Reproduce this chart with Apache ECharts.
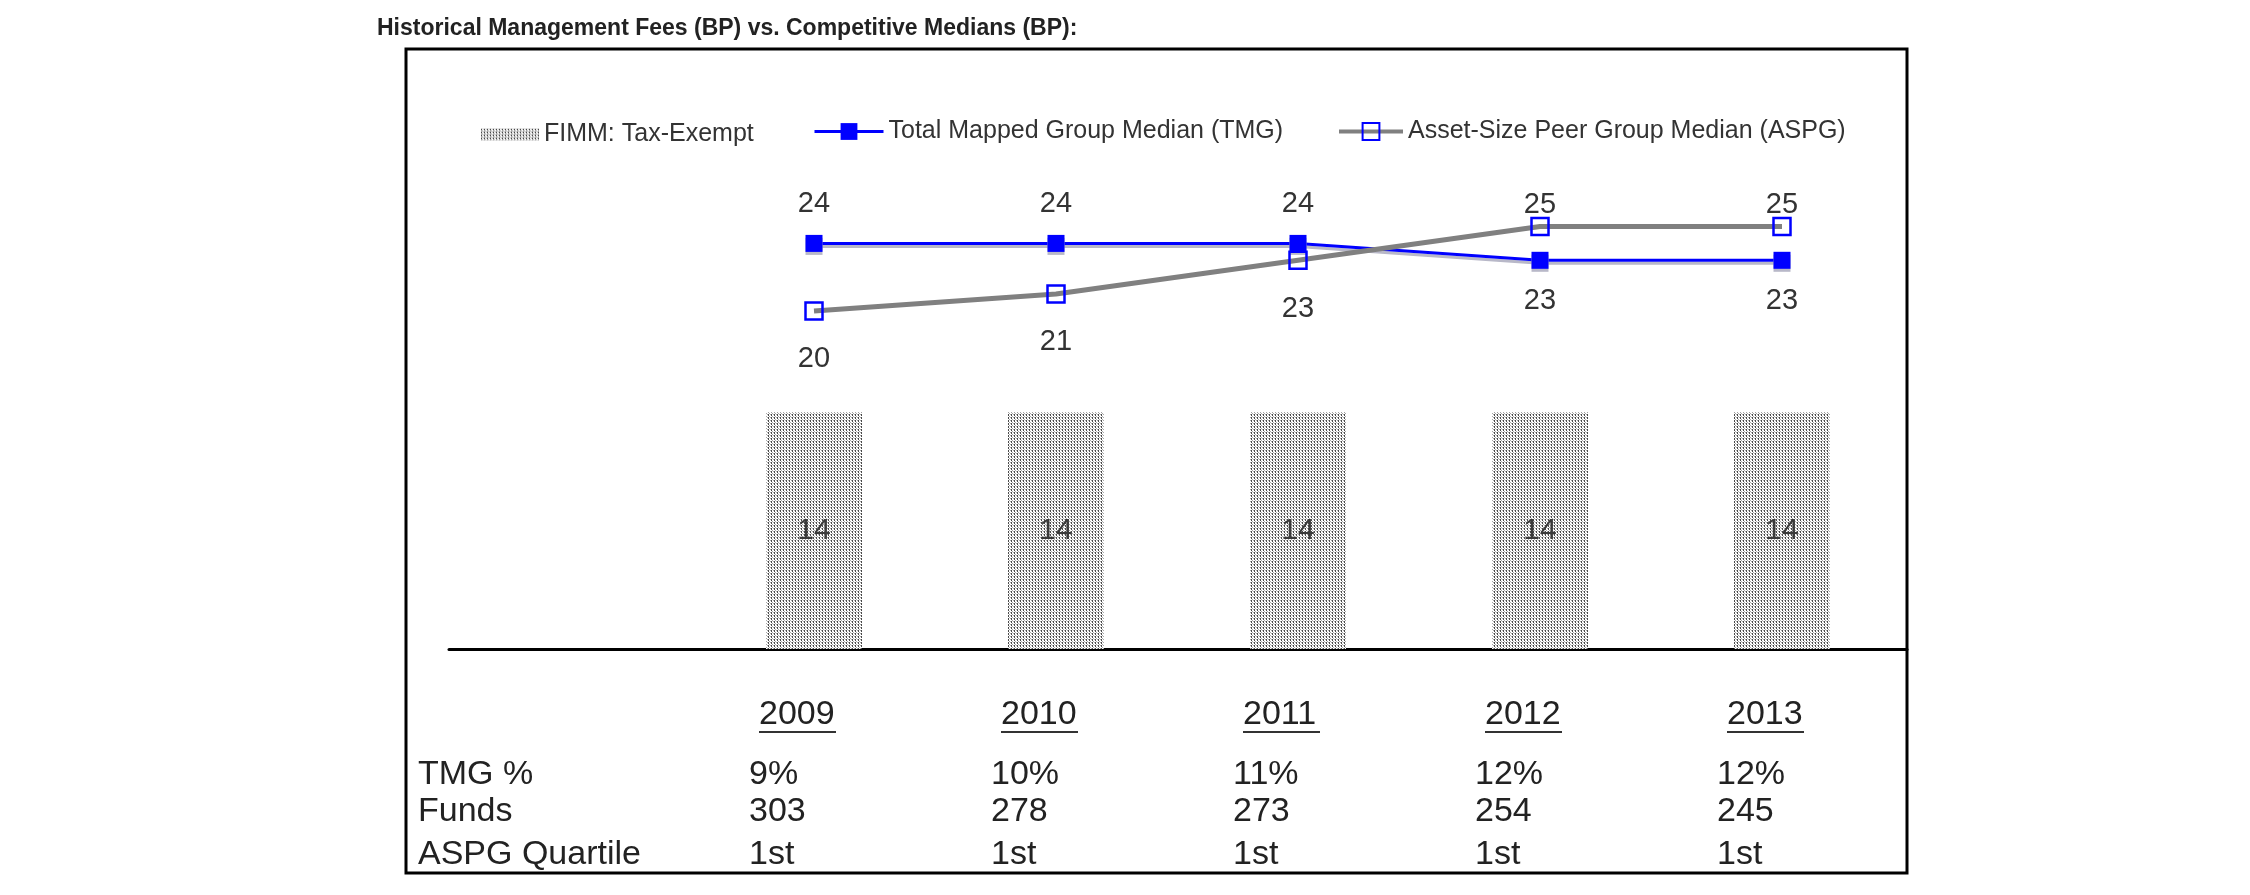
<!DOCTYPE html>
<html><head><meta charset="utf-8">
<script src="https://cdn.jsdelivr.net/npm/echarts@6/dist/echarts.min.js"></script>
<style>html,body{margin:0;padding:0;background:#fff}#c{width:2250px;height:895px}</style>
</head><body><div id="c"></div>
<script>
// ---- data ----
const years = ['2009', '2010', '2011', '2012', '2013'];
const fimm = [14, 14, 14, 14, 14];
const tmg = [24, 24, 24, 23, 23];
const aspg = [20, 21, 23, 25, 25];
const tmgPct = ['9%', '10%', '11%', '12%', '12%'];
const funds = ['303', '278', '273', '254', '245'];
const quartile = ['1st', '1st', '1st', '1st', '1st'];
const rowHeaders = ['TMG %', 'Funds', 'ASPG Quartile'];
const seriesNames = ['FIMM: Tax-Exempt', 'Total Mapped Group Median (TMG)', 'Asset-Size Peer Group Median (ASPG)'];
const titleText = 'Historical Management Fees (BP) vs. Competitive Medians (BP):';

// ---- style ----
const FONT = "'Liberation Sans', Arial, sans-serif";
const BLUE = '#0000FF';
const GRAY = '#808080';
const TXT = '#222';

function makePattern() {
  const c = document.createElement('canvas');
  c.width = 3; c.height = 3;
  const g = c.getContext('2d');
  g.fillStyle = '#ffffff'; g.fillRect(0, 0, 3, 3);
  g.fillStyle = '#4a4a4a'; g.fillRect(0, 0, 1, 1); g.fillRect(0, 1, 1, 1);
  g.fillStyle = '#a8a8a8'; g.fillRect(2, 0, 1, 1); g.fillRect(1, 2, 1, 1);
  return c;
}
const pattern = { image: makePattern(), repeat: 'repeat' };

const GRID_TOP = 142, GRID_H = 507, CAT_LEFT = 693, CAT_W = 1210;
const ROW_Y = [775, 812, 855];

function tmgLabel(i) {
  const above = tmg[i] >= aspg[i];
  return { position: above ? 'top' : 'bottom', distance: above ? 16 : 18 };
}
function aspgLabel(i) {
  const above = aspg[i] > tmg[i];
  return { position: above ? 'top' : 'bottom', distance: above ? -3 : 24 };
}

const tableAxis = (rows, margin, extra) => Object.assign({
  type: 'category', gridIndex: 2, data: years, position: 'bottom',
  axisLine: { show: false }, axisTick: { show: false }, splitLine: { show: false },
  axisLabel: {
    interval: 0, margin: margin, align: 'left', verticalAlign: 'middle',
    fontSize: 34, color: TXT, fontFamily: FONT,
    formatter: (v, i) => rows[i]
  }
}, extra || {});

const AXIS_Y = GRID_TOP + GRID_H;

const option = {
  animation: false,
  backgroundColor: '#fff',
  textStyle: { fontFamily: FONT },
  title: {
    text: titleText, left: 377, top: 17, padding: 0,
    textStyle: { fontFamily: FONT, fontWeight: 'bold', fontSize: 23, color: TXT }
  },
  legend: [
    { data: [{ name: seriesNames[0], icon: 'rect' }], left: 481, top: 122, padding: 0, itemWidth: 58, itemHeight: 12, selectedMode: false,
      textStyle: { fontSize: 25, color: '#333', fontFamily: FONT } },
    { data: [seriesNames[1]], left: 813, top: 119, padding: 0, itemWidth: 69, itemHeight: 21, selectedMode: false,
      lineStyle: { width: 3 },
      textStyle: { fontSize: 25, color: '#333', fontFamily: FONT } },
    { data: [seriesNames[2]], left: 1337, top: 119, padding: 0, itemWidth: 64, itemHeight: 21, selectedMode: false,
      lineStyle: { width: 4 },
      textStyle: { fontSize: 25, color: '#333', fontFamily: FONT } }
  ],
  grid: [
    { left: CAT_LEFT, width: CAT_W, top: GRID_TOP, height: GRID_H },
    { left: 449, width: 1458, top: GRID_TOP, height: GRID_H },
    { left: CAT_LEFT - 65, width: CAT_W, top: GRID_TOP, height: GRID_H }
  ],
  xAxis: [
    { type: 'category', gridIndex: 0, data: years, show: false },
    { type: 'value', gridIndex: 1, min: 0, max: 1,
      axisLine: { show: true, onZero: false, lineStyle: { color: '#000', width: 3 } },
      axisTick: { show: false }, axisLabel: { show: false }, splitLine: { show: false } },
    tableAxis(years, 68, {
      axisLabel: {
        interval: 0, margin: 68, align: 'left', verticalAlign: 'middle',
        formatter: (v) => '{y|' + v + '}\n{u|}',
        padding: [0, 0, 0, 10],
        rich: {
          y: { fontSize: 34, lineHeight: 30, color: TXT, fontFamily: FONT },
          u: { width: 77, height: 2, lineHeight: 4, backgroundColor: '#333' }
        }
      }
    }),
    tableAxis(tmgPct, ROW_Y[0] - AXIS_Y),
    tableAxis(funds, ROW_Y[1] - AXIS_Y),
    tableAxis(quartile, ROW_Y[2] - AXIS_Y)
  ],
  yAxis: [
    { type: 'value', gridIndex: 0, min: 0, max: 30, show: false },
    { type: 'value', gridIndex: 1, min: 0, max: 1, show: false },
    { type: 'value', gridIndex: 2, min: 0, max: 1, show: false }
  ],
  graphic: [
    { type: 'rect', shape: { x: 406, y: 49, width: 1501, height: 824 },
      style: { fill: 'none', stroke: '#000', lineWidth: 3 }, silent: true, z: 10 }
  ].concat(rowHeaders.map((t, i) => ({
    type: 'text', left: 418, top: ROW_Y[i] - 17,
    style: { text: t, font: '34px ' + FONT, fill: TXT }
  }))),
  series: [
    {
      name: seriesNames[0], type: 'bar', xAxisIndex: 0, yAxisIndex: 0,
      data: fimm, barWidth: 96,
      itemStyle: { color: pattern },
      label: { show: true, position: 'inside', fontSize: 30, color: '#3a3a3a', fontFamily: FONT }
    },
    {
      name: seriesNames[1], type: 'line', xAxisIndex: 0, yAxisIndex: 0,
      data: tmg.map((v, i) => ({ value: v, label: tmgLabel(i) })),
      symbol: 'rect', symbolSize: 17,
      lineStyle: { color: BLUE, width: 3, shadowColor: '#b8b8c8', shadowOffsetY: 3 },
      itemStyle: { color: BLUE, shadowColor: '#b8b8c8', shadowOffsetY: 3 },
      label: { show: true, fontSize: 29, color: '#333', fontFamily: FONT },
      z: 3
    },
    {
      name: seriesNames[2], type: 'line', xAxisIndex: 0, yAxisIndex: 0,
      data: aspg.map((v, i) => ({ value: v, label: aspgLabel(i) })),
      symbol: 'rect', symbolSize: 17,
      lineStyle: { color: GRAY, width: 5 },
      itemStyle: { color: 'rgba(255,255,255,0)', borderColor: BLUE, borderWidth: 2.5 },
      label: { show: true, fontSize: 29, color: '#333', fontFamily: FONT },
      z: 4
    }
  ]
};

const chart = echarts.init(document.getElementById('c'), null, { renderer: 'canvas' });
chart.setOption(option);
</script>
</body></html>
